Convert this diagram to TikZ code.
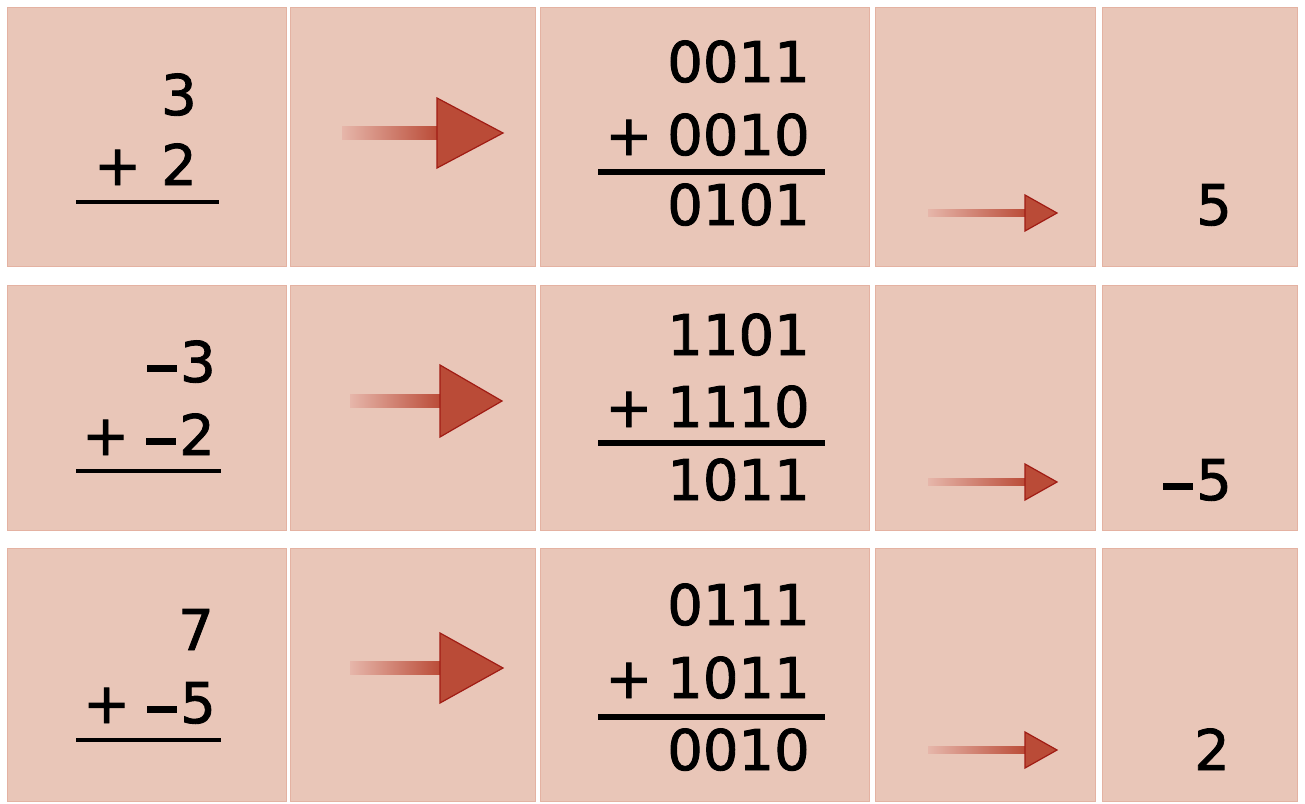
\documentclass[tikz,border=0pt]{standalone}
\usepackage{fontspec}
\setmainfont{DejaVu Sans}
\newfontfamily\numfont{DejaVu Sans}[FakeBold=1.6]

\definecolor{cellpink}{HTML}{E9C6B8}
\definecolor{cellline}{HTML}{E4B2A2}
\definecolor{arrowred}{HTML}{BA4B37}
\definecolor{arrowedge}{HTML}{A01C14}
\definecolor{arrowfade}{HTML}{E6B6AA}

% the minus sign of the sums, a flat bar on the digit line
\newcommand{\negbar}{\rule[10.5pt]{30pt}{7pt}\hspace{3pt}}

\begin{document}
\begin{tikzpicture}[x=1pt, y=-1pt,
    cell/.style={fill=cellpink, draw=cellline, line width=1pt, inner sep=0pt},
    num/.style={anchor=base east, inner sep=0pt, font=\numfont\fontsize{56}{60}\selectfont},
    sumline/.style={line width=3.5pt},
    binline/.style={line width=5.5pt},
    head/.style={fill=arrowred, draw=arrowedge, line width=1.2pt, line join=miter}]
    \useasboundingbox (0,0) rectangle (1305,803);

    % cells, three rows of five
    \node[cell, minimum width=279, minimum height=259] (r1c1) at (146.5,136.5) {};
    \node[cell, minimum width=245, minimum height=259] (r1c2) at (412.5,136.5) {};
    \node[cell, minimum width=329, minimum height=259] (r1c3) at (704.5,136.5) {};
    \node[cell, minimum width=220, minimum height=259] (r1c4) at (985,136.5) {};
    \node[cell, minimum width=195, minimum height=259] (r1c5) at (1199.5,136.5) {};

    \node[cell, minimum width=279, minimum height=245] (r2c1) at (146.5,407.5) {};
    \node[cell, minimum width=245, minimum height=245] (r2c2) at (412.5,407.5) {};
    \node[cell, minimum width=329, minimum height=245] (r2c3) at (704.5,407.5) {};
    \node[cell, minimum width=220, minimum height=245] (r2c4) at (985,407.5) {};
    \node[cell, minimum width=195, minimum height=245] (r2c5) at (1199.5,407.5) {};

    \node[cell, minimum width=279, minimum height=253] (r3c1) at (146.5,674.5) {};
    \node[cell, minimum width=245, minimum height=253] (r3c2) at (412.5,674.5) {};
    \node[cell, minimum width=329, minimum height=253] (r3c3) at (704.5,674.5) {};
    \node[cell, minimum width=220, minimum height=253] (r3c4) at (985,674.5) {};
    \node[cell, minimum width=195, minimum height=253] (r3c5) at (1199.5,674.5) {};

    % decimal sums
    \node[num] (dec1a) at (197,115) {3};
    \node[num] (dec1b) at (197,185) {+\hspace{20pt}2};
    \draw[sumline] (76,202) -- (219,202);

    \node[num] (dec2a) at (216,382) {\negbar3};
    \node[num] (dec2b) at (215,455) {+\hspace{17pt}\negbar2};
    \draw[sumline] (76,471) -- (221,471);

    \node[num] (dec3a) at (214,650) {7};
    \node[num] (dec3b) at (216,723) {+\hspace{17pt}\negbar5};
    \draw[sumline] (76,740) -- (221,740);

    % big arrows
    \shade[left color=arrowfade, right color=arrowred] (342,126.5) rectangle (438,139.5);
    \draw[head] (437,98) -- (503,133) -- (437,168) -- cycle;
    \shade[left color=arrowfade, right color=arrowred] (350,394.5) rectangle (441,407.5);
    \draw[head] (440,365) -- (502,401) -- (440,437) -- cycle;
    \shade[left color=arrowfade, right color=arrowred] (350,661.5) rectangle (441,674.5);
    \draw[head] (440,633) -- (503,668) -- (440,703) -- cycle;

    % binary sums
    \node[num] (bin1a) at (810,82) {0011};
    \node[num] (bin1b) at (810,155) {+\hspace{15pt}0010};
    \draw[binline] (598,172) -- (825,172);
    \node[num] (bin1s) at (810,225) {0101};

    \node[num] (bin2a) at (810,355) {1101};
    \node[num] (bin2b) at (810,427) {+\hspace{15pt}1110};
    \draw[binline] (598,443) -- (825,443);
    \node[num] (bin2s) at (810,500) {1011};

    \node[num] (bin3a) at (810,625) {0111};
    \node[num] (bin3b) at (810,698) {+\hspace{15pt}1011};
    \draw[binline] (598,717) -- (825,717);
    \node[num] (bin3s) at (810,770) {0010};

    % small arrows
    \shade[left color=arrowfade, right color=arrowred] (928,209.5) rectangle (1026,216.5);
    \draw[head] (1025,195) -- (1057,213) -- (1025,231) -- cycle;
    \shade[left color=arrowfade, right color=arrowred] (928,478.5) rectangle (1026,485.5);
    \draw[head] (1025,464) -- (1057,482) -- (1025,500) -- cycle;
    \shade[left color=arrowfade, right color=arrowred] (928,746.5) rectangle (1026,753.5);
    \draw[head] (1025,732) -- (1057,750) -- (1025,768) -- cycle;

    % results
    \node[num] (res1) at (1232,225) {5};
    \node[num] (res2) at (1232,500) {\negbar5};
    \node[num] (res3) at (1230,770) {2};
\end{tikzpicture}
\end{document}
